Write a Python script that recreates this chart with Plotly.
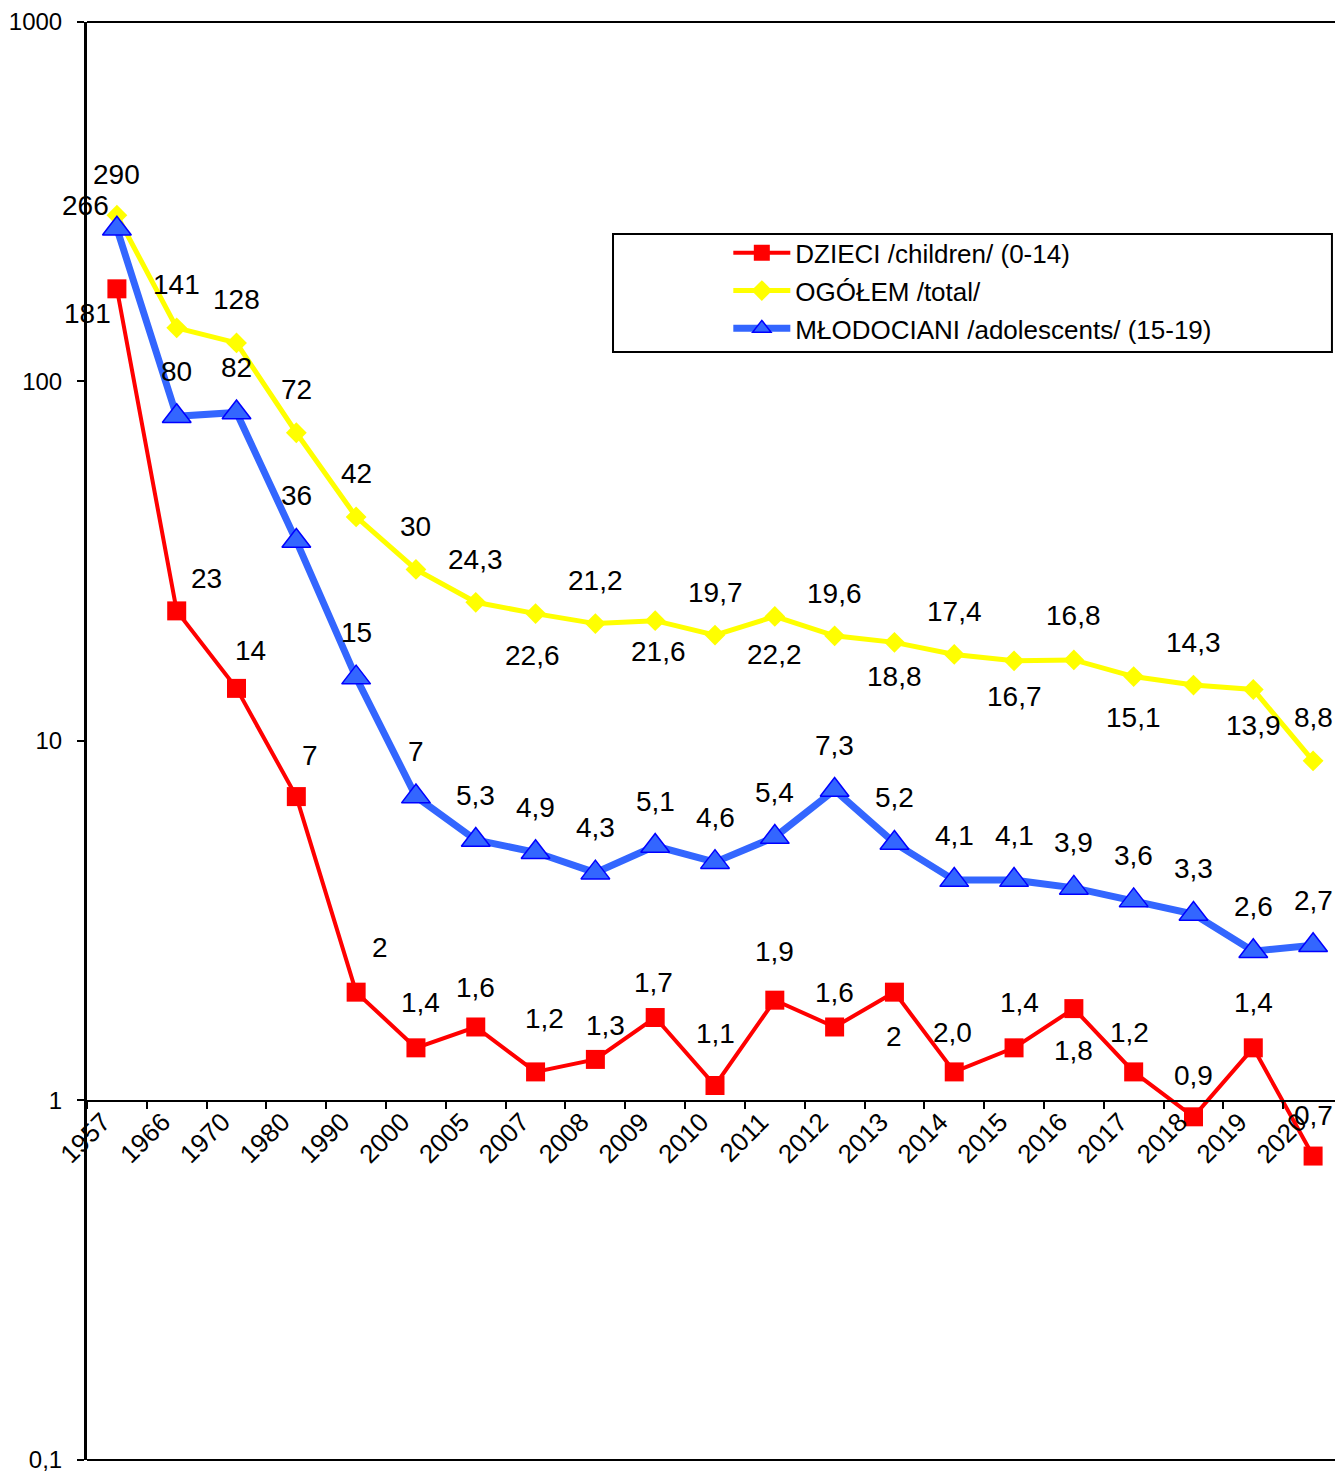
import math
import plotly.graph_objects as go

years = ["1957", "1966", "1970", "1980", "1990", "2000", "2005", "2007", "2008", "2009",
         "2010", "2011", "2012", "2013", "2014", "2015", "2016", "2017", "2018", "2019", "2020"]

children = [181, 23, 14, 7, 2, 1.4, 1.6, 1.2, 1.3, 1.7, 1.1, 1.9, 1.6, 2.0, 1.2, 1.4, 1.8, 1.2, 0.9, 1.4, 0.7]
total = [290, 141, 128, 72, 42, 30, 24.3, 22.6, 21.2, 21.6, 19.7, 22.2, 19.6, 18.8, 17.4, 16.7, 16.8, 15.1, 14.3, 13.9, 8.8]
adolescents = [266, 80, 82, 36, 15, 7, 5.3, 4.9, 4.3, 5.1, 4.6, 5.4, 7.3, 5.2, 4.1, 4.1, 3.9, 3.6, 3.3, 2.6, 2.7]

children_labels = ["181", "23", "14", "7", "2", "1,4", "1,6", "1,2", "1,3", "1,7", "1,1", "1,9", "1,6",
                   "2", "2,0", "1,4", "1,8", "1,2", "0,9", "1,4", "0,7"]
total_labels = ["290", "141", "128", "72", "42", "30", "24,3", "22,6", "21,2", "21,6", "19,7", "22,2",
                "19,6", "18,8", "17,4", "16,7", "16,8", "15,1", "14,3", "13,9", "8,8"]
adolescents_labels = ["266", "80", "82", "36", "15", "7", "5,3", "4,9", "4,3", "5,1", "4,6", "5,4", "7,3",
                      "5,2", "4,1", "4,1", "3,9", "3,6", "3,3", "2,6", "2,7"]

ytick_vals = [0.1, 1, 10, 100, 1000]
ytick_text = ["0,1", "1", "10", "100", "1000"]

# label offsets in pixels (dx, dy; dy positive = down)
children_off = [(-29, 25), (30, -32), (14, -38), (14, -41), (24, -45), (5, -45), (0, -39), (9, -53),
                (10, -34), (-2, -35), (0, -52), (0, -49), (0, -34), (0, 44), (-2, -39), (5, -45),
                (0, 42), (-4, -39), (0, -41), (0, -45), (0, -41)]
total_off = [(0, -41), (0, -43), (0, -43), (0, -43), (0, -43), (0, -43), (0, -43), (-3, 42), (0, -43),
             (3, 31), (0, -43), (0, 38), (0, -42), (0, 34), (0, -43), (0, 36), (0, -44), (0, 41),
             (0, -43), (0, 36), (0, -43)]
adolescents_off = [(-31, -23)] + [(0, -45)] * 20

FONT = "Arial, Liberation Sans, sans-serif"

fig = go.Figure()
fig.add_trace(go.Scatter(
    x=years, y=children, name="DZIECI /children/ (0-14)", mode="lines+markers",
    line=dict(color="#FF0000", width=4),
    marker=dict(symbol="square", size=19, color="#FF0000"),
    legendgroup="a", legendrank=1))
fig.add_trace(go.Scatter(
    x=years, y=total, name="OGÓŁEM /total/", mode="lines+markers",
    line=dict(color="#FFFF00", width=5),
    marker=dict(symbol="diamond", size=16, color="#FFFF00"),
    legendgroup="b", legendrank=2))
fig.add_trace(go.Scatter(
    x=years, y=adolescents, name="MŁODOCIANI /adolescents/ (15-19)", mode="lines+markers",
    line=dict(color="#3366FF", width=7),
    marker=dict(symbol="triangle-up", size=25, color="#3366FF", line=dict(color="#0000FF", width=1.5)),
    legendgroup="c", legendrank=3))

for vals, labels, offs in [(children, children_labels, children_off),
                           (total, total_labels, total_off),
                           (adolescents, adolescents_labels, adolescents_off)]:
    for i, (v, t, (dx, dy)) in enumerate(zip(vals, labels, offs)):
        fig.add_annotation(xref="x", yref="y", x=i, y=math.log10(v), text=t, showarrow=False,
                           xshift=dx, yshift=-dy,
                           font=dict(family=FONT, size=28, color="black"))

# plot area top/bottom border lines and legend box
fig.add_shape(type="line", xref="paper", yref="paper", x0=0, x1=1, y0=1, y1=1,
              line=dict(color="black", width=2))
fig.add_shape(type="line", xref="paper", yref="paper", x0=0, x1=1, y0=0, y1=0,
              line=dict(color="black", width=2))
fig.add_shape(type="rect", xref="paper", yref="paper", x0=0.4188, x1=0.9912, y0=0.7705, y1=0.8526,
              line=dict(color="black", width=2), fillcolor="white", layer="below")

fig.update_layout(
    width=1335, height=1464,
    margin=dict(l=79, r=0, t=14, b=12),
    plot_bgcolor="white", paper_bgcolor="white",
    font=dict(family=FONT, color="black"),
    showlegend=True,
    legend=dict(x=0.5106, y=0.8558, xanchor="left", yanchor="top",
                bgcolor="rgba(0,0,0,0)", borderwidth=0,
                font=dict(family=FONT, size=26, color="black"),
                tracegroupgap=1, itemwidth=57),
    xaxis=dict(type="category", anchor="free", position=0.25,
               range=[-0.5, len(years) - 0.5],
               showline=True, linecolor="black", linewidth=2,
               ticks="outside", ticklen=7, tickwidth=2, tickcolor="black",
               tickson="boundaries", tickangle=-45,
               ticklabelshift=-14, ticklabelstandoff=-5,
               tickfont=dict(family=FONT, size=26, color="black"),
               showgrid=False, zeroline=False),
    yaxis=dict(type="log", range=[-1.0005, 3],
               tickvals=ytick_vals, ticktext=ytick_text,
               showline=True, linecolor="black", linewidth=3,
               ticks="outside", ticklen=7, tickwidth=2, tickcolor="black",
               ticklabelstandoff=10, ticklabeloverflow="allow",
               tickfont=dict(family=FONT, size=24, color="black"),
               showgrid=False, zeroline=False),
)

fig.write_html("out.html")
